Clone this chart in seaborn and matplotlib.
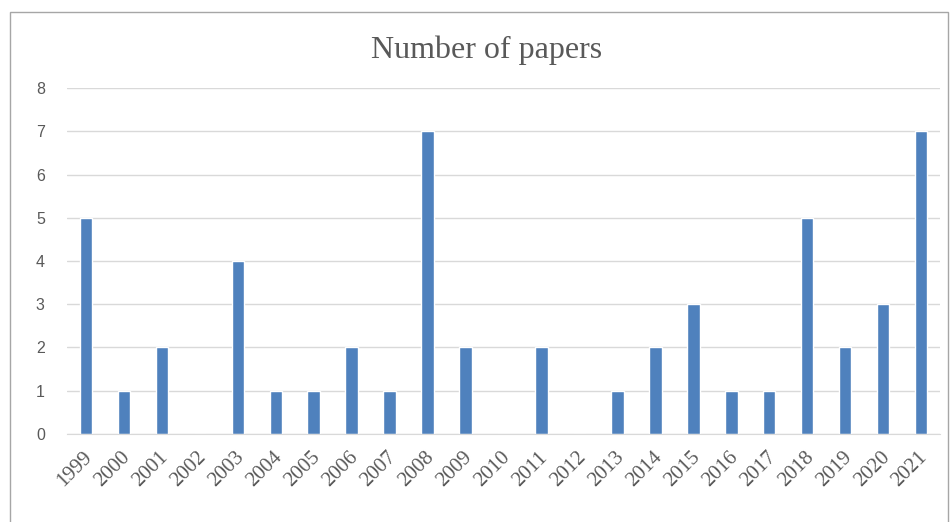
import matplotlib
matplotlib.use('Agg')
import matplotlib.pyplot as plt
import matplotlib.transforms as mtransforms
import seaborn as sns
from matplotlib.patches import Rectangle

years = [str(y) for y in range(1999, 2022)]
papers = [5, 1, 2, 0, 4, 1, 1, 2, 1, 7, 2, 0, 2, 0, 1, 2, 3, 1, 1, 5, 2, 3, 7]

sns.set_style('white')
fig = plt.figure(figsize=(9.52, 5.22), dpi=100)
ax = fig.add_axes([0.0704, 0.1686, 0.917, 0.6628])

sns.barplot(x=years, y=papers, color='#4F81BD', saturation=1, width=0.33, ax=ax)

ax.set_ylim(0, 8)
ax.set_xlim(-0.5, len(years) - 0.5)
ax.set_yticks(range(0, 9))
ax.yaxis.grid(True, color='#D9D9D9', linewidth=1)
ax.set_axisbelow(True)
for s in ['top', 'right', 'left']:
    ax.spines[s].set_visible(False)
ax.spines['bottom'].set_color('#D9D9D9')
ax.tick_params(axis='both', length=0)
ax.tick_params(axis='y', labelsize=11.5, labelcolor='#595959', pad=16)
for lab in ax.get_yticklabels():
    lab.set_family('Liberation Sans')
ax.tick_params(axis='x', labelsize=15, labelcolor='#595959', pad=10)
shift = mtransforms.ScaledTranslation(-3 / 100, 0, fig.dpi_scale_trans)
for lab in ax.get_xticklabels():
    lab.set_family('Liberation Serif')
    lab.set_rotation(45)
    lab.set_ha('right')
    lab.set_rotation_mode('anchor')
    lab.set_transform(lab.get_transform() + shift)

fig.text(0.511, 0.903, 'Number of papers', ha='center', va='center',
         fontsize=23, color='#595959', family='Liberation Serif')

fig.patches.append(Rectangle((10 / 952, -0.01), 938 / 952, 1 - 12 / 522 + 0.01,
                             transform=fig.transFigure, fill=False,
                             edgecolor='#A6A6A6', linewidth=1))

fig.savefig('out.png', dpi=100)
